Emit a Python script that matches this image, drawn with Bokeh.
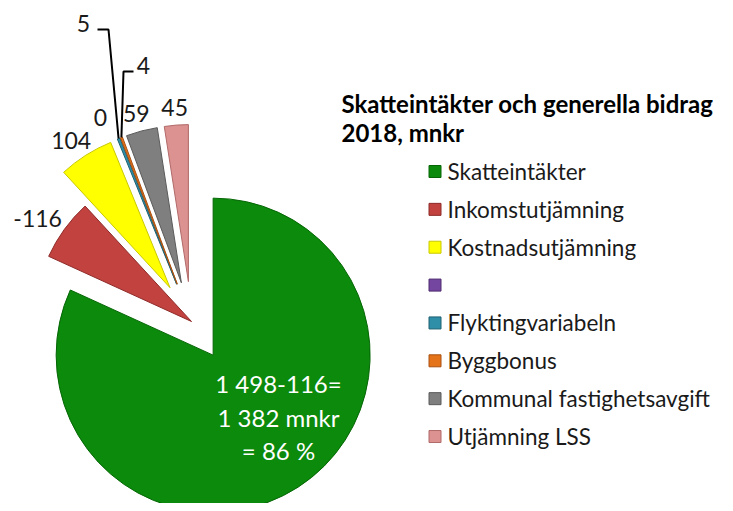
import numpy as np
from bokeh.plotting import figure
from bokeh.models import ColumnDataSource, Range1d
from bokeh.core.properties import value
from bokeh.embed import file_html
from bokeh.resources import INLINE

# ---------------- data ----------------
categories = ["Skatteintäkter", "Inkomstutjämning", "Kostnadsutjämning", "",
              "Flyktingvariabeln", "Byggbonus", "Kommunal fastighetsavgift", "Utjämning LSS"]
values = [1498, 116, 104, 0, 5, 4, 59, 45]
data_labels = ["", "-116", "104", "0", "5", "4", "59", "45"]
colors = ["#0b8a0b", "#c1423f", "#ffff00", "#7446a0", "#2f8fa8", "#e4731a", "#7f7f7f", "#db9291"]
edge_colors = ["#066606", "#8e2a28", "#c8c800", "#4f2c70", "#1f6070", "#a85010", "#5a5a5a", "#b06a69"]
title_lines = ["Skatteintäkter och generella bidrag", "2018, mnkr"]
center_label = ["1 498-116=", "1 382 mnkr", "= 86 %"]

# ---------------- layout (reference pixel space) ----------------
W, H = 725, 503
FONT = "Lato"
def fy(y):
    return 511 - y

CX, CY = 191, fy(321)
R = 157
explode = [40, 0, 40, 40, 40, 40, 40, 40]

p = figure(width=W, height=H, output_backend="svg", toolbar_location=None,
           x_range=Range1d(0, W), y_range=Range1d(511 - H, 511),
           min_border=0, outline_line_color=None)
p.axis.visible = False
p.grid.visible = False
p.background_fill_color = "white"
p.border_fill_color = "white"

vals = np.array(values, dtype=float)
total = vals.sum()
cum = np.cumsum(vals)
prev = cum - vals
start = np.pi / 2 - 2 * np.pi * prev / total
end = np.pi / 2 - 2 * np.pi * cum / total
mid = (start + end) / 2
ex = np.array(explode, dtype=float)
wx = CX + ex * np.cos(mid)
wy = CY + ex * np.sin(mid)

keep = vals > 0
src = ColumnDataSource(dict(x=wx[keep], y=wy[keep], s=start[keep], e=end[keep],
                            c=[colors[i] for i in range(len(vals)) if keep[i]],
                            lc=[edge_colors[i] for i in range(len(vals)) if keep[i]]))
p.wedge(x="x", y="y", radius=R, start_angle="s", end_angle="e", direction="clock",
        fill_color="c", line_color="lc", line_width=1, source=src)

# data labels outside slices ("outside end"); some labels were moved by hand
LFS = 23
moved = {4: (83, 23, (97, 108), 29), 5: (143, 65, (133, 123), 71)}
nudged = {3: (100, 117)}
lab_x, lab_y, lab_t = [], [], []
for i, t in enumerate(data_labels):
    if not t:
        continue
    if i in moved:
        tx, ty, (a, b), ly_ref = moved[i]
        tipx = CX + (R + ex[i]) * np.cos(mid[i])
        tipy = CY + (R + ex[i]) * np.sin(mid[i])
        p.line([a, b, tipx], [fy(ly_ref), fy(ly_ref), tipy], line_color="black", line_width=2)
        lab_x.append(tx); lab_y.append(fy(ty)); lab_t.append(t)
    elif i in nudged:
        tx, ty = nudged[i]
        lab_x.append(tx); lab_y.append(fy(ty)); lab_t.append(t)
    else:
        d = R + ex[i] + 10
        px_ = CX + d * np.cos(mid[i])
        py_ = CY + d * np.sin(mid[i])
        w = len(t) * 0.5 * LFS
        h = 0.7 * LFS
        lab_x.append(px_ + np.cos(mid[i]) * w / 2)
        lab_y.append(py_ + np.sin(mid[i]) * h / 2)
        lab_t.append(t)
p.text(x=lab_x, y=lab_y, text=lab_t, text_font=value(FONT), text_font_size=f"{LFS}px",
       text_align="center", text_baseline="middle", text_color="#1a1a1a")

# label inside green slice
p.text(x=[278] * 3, y=[fy(383), fy(417), fy(450)], text=center_label,
       text_font=value(FONT), text_font_size="24px", text_align="center",
       text_baseline="middle", text_color="white")

# title
p.text(x=[341, 341], y=[fy(103), fy(132)], text=title_lines, text_font=value(FONT),
       text_font_size="24px", text_font_style="bold", text_align="left",
       text_baseline="middle", text_color="black")

# legend
n = len(categories)
rows = np.arange(n)
leg_y = fy(171 + rows * 37.86)
p.rect(x=[434.5] * n, y=leg_y, width=12, height=12, fill_color=colors,
       line_color=edge_colors, line_width=1)
p.text(x=[447] * n, y=leg_y, text=categories, text_font=value(FONT), text_font_size="22.5px",
       text_align="left", text_baseline="middle", text_color="#1a1a1a")

open("out.html", "w").write(file_html(p, INLINE))
